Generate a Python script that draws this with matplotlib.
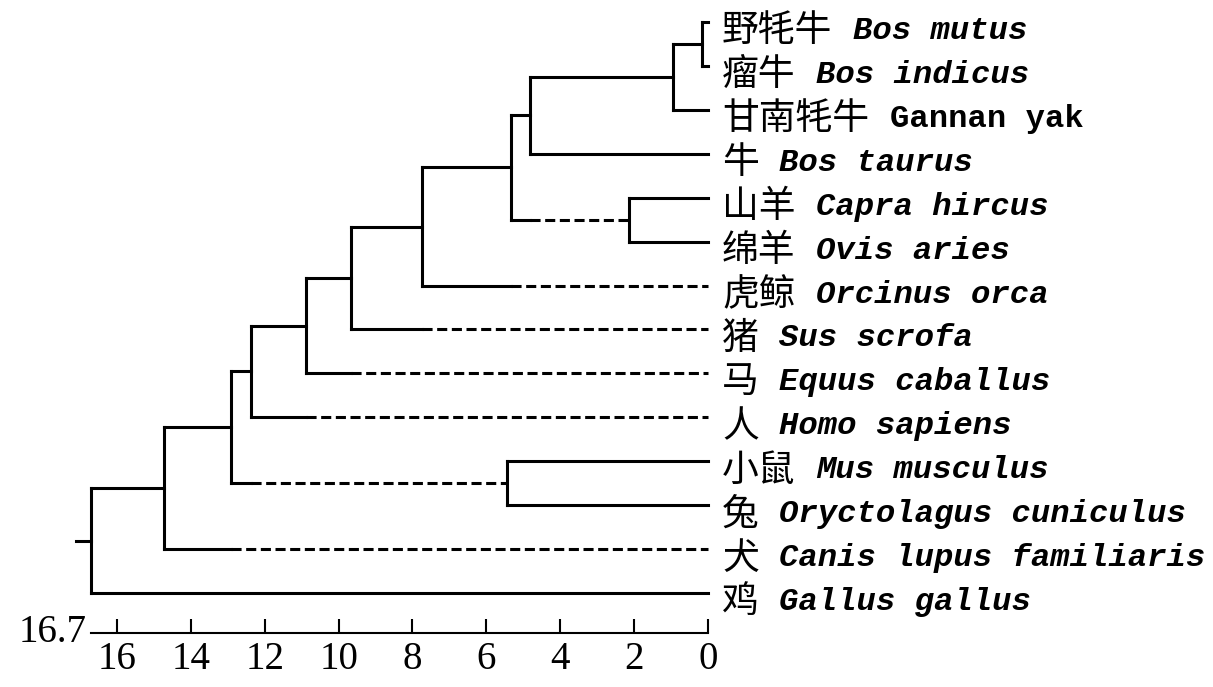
import matplotlib.pyplot as plt

plt.rcParams["font.family"] = "Liberation Serif"

# leaves, top to bottom
LEAF_CN = ["野牦牛", "瘤牛", "甘南牦牛", "牛", "山羊", "绵羊", "虎鲸",
           "猪", "马", "人", "小鼠", "兔", "犬", "鸡"]
LEAF_LATIN = ["Bos mutus", "Bos indicus", "Gannan yak", "Bos taurus",
              "Capra hircus", "Ovis aries", "Orcinus orca", "Sus scrofa",
              "Equus caballus", "Homo sapiens", "Mus musculus",
              "Oryctolagus cuniculus", "Canis lupus familiaris", "Gallus gallus"]
LEAF_ITALIC = [True, True, False, True, True, True, True,
               True, True, True, True, True, True, True]

# internal nodes (children must come before parents), ages in Mya
NODE_NAMES = ["yak_zebu", "yak", "bos", "caprinae", "bovidae", "n_orca",
              "n_sus", "n_equus", "n_homo", "glires", "n_glires", "n_canis", "root"]
NODE_LEFT = ["Bos mutus", "yak_zebu", "yak", "Capra hircus", "bos", "bovidae",
             "n_orca", "n_sus", "n_equus", "Mus musculus", "n_homo", "n_glires", "n_canis"]
NODE_RIGHT = ["Bos indicus", "Gannan yak", "Bos taurus", "Ovis aries", "caprinae",
              "Orcinus orca", "Sus scrofa", "Equus caballus", "Homo sapiens",
              "Oryctolagus cuniculus", "glires", "Canis lupus familiaris", "Gallus gallus"]
NODE_AGES = [0.15, 0.95, 4.82, 2.14, 5.33, 7.74, 9.67, 10.87, 12.36, 5.45, 12.90, 14.74, 16.70]

# branches drawn dashed after the sibling's split
DASHED = ["caprinae", "Orcinus orca", "Sus scrofa", "Equus caballus",
          "Homo sapiens", "glires", "Canis lupus familiaris"]

ROOT_AGE = 16.7
ROOT_LABEL = "16.7"
X_TICKS = [16, 14, 12, 10, 8, 6, 4, 2, 0]

LW = 2.2
COLOR = "black"
PX = 0.72  # points per pixel at dpi 100


def main() -> None:
    fig = plt.figure(figsize=(12.13, 6.87), dpi=100)
    ax = fig.add_axes([0, 1 - 633 / 687, 1, 633 / 687])
    ax.set_xlim(708 / 36.94, -505 / 36.94)
    ax.set_ylim((633 - 22) / 43.92, -22 / 43.92)

    ages = {name: 0.0 for name in LEAF_LATIN}
    ys = {name: float(i) for i, name in enumerate(LEAF_LATIN)}
    for name, left, right, age in zip(NODE_NAMES, NODE_LEFT, NODE_RIGHT, NODE_AGES):
        ages[name] = age
        ys[name] = (ys[left] + ys[right]) / 2

    line_kw = dict(color=COLOR, lw=LW, solid_capstyle="projecting")
    for name, left, right in zip(NODE_NAMES, NODE_LEFT, NODE_RIGHT):
        a = ages[name]
        ax.plot([a, a], [ys[left], ys[right]], **line_kw)
        for child, sib in ((left, right), (right, left)):
            y = ys[child]
            if child in DASHED:
                ax.plot([a, ages[sib]], [y, y], **line_kw)
                ax.plot([ages[sib], ages[child]], [y, y], color=COLOR, lw=LW,
                        linestyle=(0, (3.3, 1.5)))
            else:
                ax.plot([a, ages[child]], [y, y], **line_kw)

    # root stub
    ax.plot([ROOT_AGE + 0.4, ROOT_AGE], [ys["root"], ys["root"]], **line_kw)

    # leaf labels
    for i, (cn, lat, it) in enumerate(zip(LEAF_CN, LEAF_LATIN, LEAF_ITALIC)):
        dx = 14 * PX
        dy = -9 * PX
        ax.annotate(cn, xy=(0, i), xytext=(dx, dy), textcoords="offset points",
                    ha="left", va="center", fontsize=26.5, weight="medium",
                    family=["Noto Sans CJK SC", "DejaVu Sans"])
        ax.annotate(lat, xy=(0, i), xytext=(dx + (len(cn) * 37 + 20) * PX, dy),
                    textcoords="offset points", ha="left", va="center",
                    fontsize=23.2, family="Liberation Mono", weight="bold",
                    style="italic" if it else "normal")

    # time axis
    for side in ("top", "left", "right"):
        ax.spines[side].set_visible(False)
    ax.spines["bottom"].set_bounds(0, ROOT_AGE)
    ax.spines["bottom"].set_linewidth(1.5)
    ax.set_yticks([])
    ax.set_xticks(X_TICKS)
    ax.set_xticklabels([str(t) for t in X_TICKS])
    ax.tick_params(axis="x", direction="in", length=10, width=1.5, pad=6, labelsize=28)
    ax.annotate(ROOT_LABEL, xy=(ROOT_AGE, 0), xycoords=("data", "axes fraction"),
                xytext=(-3, 0), textcoords="offset points", ha="right", va="center",
                fontsize=28)
    ax.patch.set_visible(False)

    fig.savefig("out.png", dpi=100)
    plt.close(fig)


if __name__ == "__main__":
    main()
